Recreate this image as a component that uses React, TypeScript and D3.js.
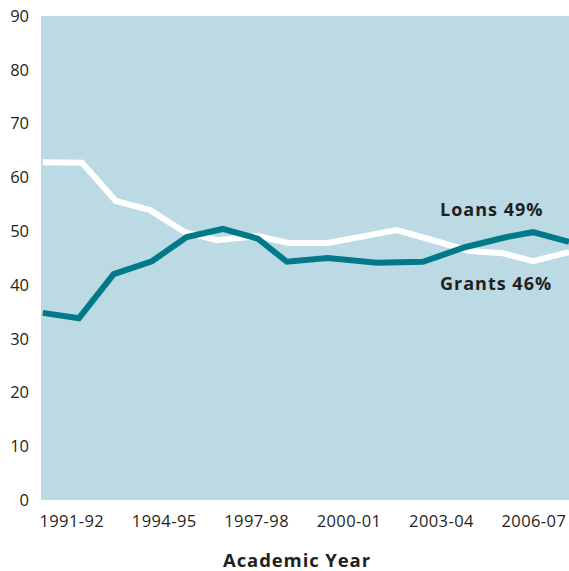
import React from "react";
import * as d3 from "d3";

// Academic year is keyed by its starting calendar year (1991 -> "1991-92")
const loanYears = [1990.06, 1991.23, 1992.36, 1993.6, 1994.73, 1995.9, 1997.04, 1997.98, 1999.31, 2000.9, 2002.4, 2003.76, 2005.12, 2005.97, 2007.14];
const loanShares = [34.8, 33.8, 42.0, 44.4, 48.9, 50.4, 48.6, 44.3, 45.0, 44.1, 44.3, 47.0, 48.9, 49.8, 48.0];

const grantYears = [1990.06, 1991.33, 1992.43, 1993.54, 1994.67, 1995.71, 1997.04, 1998.02, 1999.31, 2001.55, 2002.72, 2003.92, 2004.99, 2005.97, 2007.14];
const grantShares = [62.8, 62.7, 55.6, 53.9, 49.8, 48.3, 49.1, 47.8, 47.8, 50.2, 48.3, 46.3, 45.9, 44.4, 46.1];

const yTicks = [0, 10, 20, 30, 40, 50, 60, 70, 80, 90];
const xTickYears = [1991, 1994, 1997, 2000, 2003, 2006];
const xTickLabels = ["1991-92", "1994-95", "1997-98", "2000-01", "2003-04", "2006-07"];

const seriesLabels = [
  { text: "Loans 49%", value: 52.8 },
  { text: "Grants 46%", value: 39.0 },
];

const W = 569;
const H = 571;
const M = { left: 41, right: 0, top: 16, bottom: 71 };

const FONT = "'Open Sans', 'Noto Sans', sans-serif";
const INK = "#231f20";

export default function App() {
  const x = d3.scaleLinear().domain([1990, 2007.14]).range([M.left, W - M.right]);
  const y = d3.scaleLinear().domain([0, 90]).range([H - M.bottom, M.top]);

  const line = d3
    .line<[number, number]>()
    .x((d) => x(d[0]))
    .y((d) => y(d[1]));

  const loans = loanYears.map((yr, i) => [yr, loanShares[i]] as [number, number]);
  const grants = grantYears.map((yr, i) => [yr, grantShares[i]] as [number, number]);

  return (
    <svg
      width={W}
      height={H}
      style={{ position: "absolute", left: 0, top: 0, display: "block" }}
      fontFamily={FONT}
    >
      <rect x={0} y={0} width={W} height={H} fill="#ffffff" />
      <rect
        x={M.left}
        y={M.top}
        width={W - M.left - M.right}
        height={H - M.top - M.bottom}
        fill="#bcdae3"
      />

      {yTicks.map((t) => (
        <text key={t} x={29} y={y(t)} dy="0.36em" textAnchor="end" fontSize={16.5} fill={INK}>
          {t}
        </text>
      ))}

      {xTickYears.map((yr, i) => (
        <text
          key={yr}
          x={x(yr)}
          y={527}
          textAnchor="middle"
          fontSize={16.5}
          letterSpacing={0.4}
          fill={INK}
        >
          {xTickLabels[i]}
        </text>
      ))}

      <path d={line(grants) ?? ""} fill="none" stroke="#ffffff" strokeWidth={6} strokeLinejoin="miter" />
      <path d={line(loans) ?? ""} fill="none" stroke="#007a89" strokeWidth={6} strokeLinejoin="miter" />

      {seriesLabels.map((s) => (
        <text
          key={s.text}
          x={440}
          y={y(s.value)}
          fontSize={18}
          fontWeight="bold"
          letterSpacing={1}
          fill={INK}
        >
          {s.text}
        </text>
      ))}

      <text
        x={297}
        y={567}
        textAnchor="middle"
        fontSize={18.5}
        fontWeight="bold"
        letterSpacing={0.9}
        fill={INK}
      >
        Academic Year
      </text>
    </svg>
  );
}
